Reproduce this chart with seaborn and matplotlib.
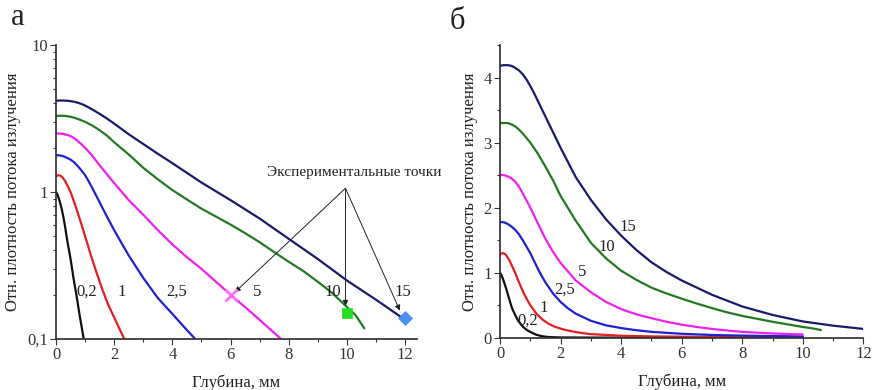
import numpy as np
import pandas as pd
import matplotlib
matplotlib.use("Agg")
import matplotlib.pyplot as plt
import seaborn as sns
from matplotlib.ticker import FixedLocator, NullFormatter, LogLocator

# ---------------- data ----------------
labels = ["0,2", "1", "2,5", "5", "10", "15"]
colors = ["#111111", "#e02020", "#2020d0", "#f020f0", "#217a21", "#1a1a6a"]

x_02 = [0, 0.05, 0.1, 0.15, 0.2, 0.25, 0.3, 0.4, 0.5, 0.6, 0.7, 0.8, 0.9, 1.0, 1.2, 1.4, 1.6, 2.0, 3.0, 5.0, 10.0]
y_02 = [1.0, 0.96, 0.90, 0.83, 0.76, 0.68, 0.60, 0.45, 0.35, 0.26, 0.20, 0.15, 0.115, 0.088, 0.045, 0.022, 0.010, 0.004, 0.002, 0.001, 0.001]

x_1 = [0, 0.05, 0.1, 0.15, 0.2, 0.3, 0.4, 0.5, 0.6, 0.7, 0.8, 0.9, 1.0, 1.2, 1.4, 1.6, 1.8, 2.0, 2.2, 2.4, 2.7, 3.0, 4.0, 5.0, 7.0, 10.0]
y_1 = [1.28, 1.295, 1.30, 1.29, 1.27, 1.20, 1.10, 1.00, 0.88, 0.77, 0.67, 0.58, 0.50, 0.37, 0.28, 0.215, 0.17, 0.14, 0.115, 0.095, 0.072, 0.055, 0.030, 0.020, 0.012, 0.008]

x_25 = [0, 0.125, 0.25, 0.375, 0.5, 0.625, 0.75, 0.875, 1.0, 1.125, 1.25, 1.375, 1.5, 1.75, 2.0, 2.25, 2.5, 3.0, 3.5, 4.0, 4.5, 5.0, 6.0, 7.0, 8.0, 9.0, 10.0]
y_25 = [1.78, 1.775, 1.75, 1.71, 1.66, 1.59, 1.50, 1.40, 1.30, 1.18, 1.06, 0.95, 0.85, 0.68, 0.55, 0.45, 0.37, 0.26, 0.19, 0.148, 0.115, 0.090, 0.060, 0.042, 0.032, 0.025, 0.020]

x_5 = [0, 0.125, 0.25, 0.375, 0.5, 0.625, 0.75, 0.875, 1.0, 1.125, 1.25, 1.5, 1.75, 2.0, 2.5, 3.0, 3.5, 4.0, 4.5, 5.0, 5.5, 6.0, 6.5, 7.0, 7.5, 8.0, 9.0, 10.0]
y_5 = [2.50, 2.50, 2.48, 2.45, 2.40, 2.32, 2.22, 2.11, 2.00, 1.88, 1.76, 1.52, 1.32, 1.15, 0.88, 0.70, 0.55, 0.44, 0.36, 0.30, 0.245, 0.20, 0.165, 0.135, 0.11, 0.09, 0.065, 0.05]

x_10 = [0, 0.125, 0.25, 0.375, 0.5, 0.625, 0.75, 0.875, 1.0, 1.25, 1.5, 1.75, 2.0, 2.5, 3.0, 3.5, 4.0, 4.5, 5.0, 5.5, 6.0, 6.5, 7.0, 7.5, 8.0, 8.5, 9.0, 9.5, 10.0, 10.3, 10.6]
y_10 = [3.30, 3.30, 3.30, 3.28, 3.25, 3.20, 3.14, 3.07, 3.00, 2.83, 2.63, 2.42, 2.18, 1.80, 1.46, 1.22, 1.03, 0.89, 0.77, 0.68, 0.60, 0.525, 0.455, 0.39, 0.335, 0.29, 0.245, 0.205, 0.165, 0.145, 0.118]

x_15 = [0, 0.125, 0.25, 0.375, 0.5, 0.625, 0.75, 0.875, 1.0, 1.125, 1.25, 1.375, 1.5, 1.75, 2.0, 2.5, 3.0, 3.5, 4.0, 4.5, 5.0, 5.5, 6.0, 7.0, 8.0, 9.0, 10.0, 11.0, 12.0]
y_15 = [4.18, 4.19, 4.19, 4.18, 4.15, 4.11, 4.05, 3.97, 3.87, 3.76, 3.64, 3.52, 3.40, 3.16, 2.92, 2.47, 2.12, 1.82, 1.57, 1.35, 1.16, 1.01, 0.88, 0.66, 0.48, 0.35, 0.25, 0.185, 0.135]

curves_x = [x_02, x_1, x_25, x_5, x_10, x_15]
curves_y = [y_02, y_1, y_25, y_5, y_10, y_15]

# experimental points
exp_x = [6, 10, 12]
exp_y = [0.20, 0.15, 0.14]
exp_colors = ["#ff70ff", "#22dd22", "#4a90f0"]
exp_markers = ["x", "s", "D"]

# label positions
lab_a_x = [1.07, 2.26, 4.15, 6.9, 9.53, 11.93]
lab_a_y = [0.21, 0.21, 0.21, 0.21, 0.21, 0.21]
lab_b_x = [0.93, 1.43, 2.15, 2.70, 3.52, 4.21]
lab_b_y = [0.26, 0.45, 0.74, 1.01, 1.40, 1.70]

x_ticks = [0, 2, 4, 6, 8, 10, 12]
ylab = "Отн. плотность потока излучения"
xlab = "Глубина, мм"

frames = []
for lab, xs, ys in zip(labels, curves_x, curves_y):
    frames.append(pd.DataFrame({"x": xs, "y": ys, "curve": lab}))
df = pd.concat(frames, ignore_index=True)

# ---------------- style ----------------
sns.set_theme(style="ticks")
plt.rcParams["font.family"] = ["Liberation Serif", "DejaVu Serif"]
plt.rcParams["axes.edgecolor"] = "#333333"
plt.rcParams["xtick.color"] = "#333333"
plt.rcParams["ytick.color"] = "#333333"
plt.rcParams["text.color"] = "#222222"
plt.rcParams["axes.labelcolor"] = "#222222"
plt.rcParams["lines.solid_joinstyle"] = "round"

fig = plt.figure(figsize=(8.74, 3.90), dpi=100)
axA = fig.add_axes([0.0641, 0.1308, 0.4127, 0.7538])
axB = fig.add_axes([0.5721, 0.1341, 0.4157, 0.7505])

pal = dict(zip(labels, colors))
for ax in (axA, axB):
    sns.lineplot(data=df, x="x", y="y", hue="curve", palette=pal, ax=ax,
                 legend=False, sort=False, estimator=None, linewidth=1.6)
    sns.despine(ax=ax)
    ax.tick_params(labelsize=12, length=4, width=0.8, direction="out", pad=2)
    ax.tick_params(which="minor", length=2.5, width=0.8)
    ax.set_xlabel(xlab, fontsize=12, labelpad=8)
    ax.set_ylabel(ylab, fontsize=12, labelpad=4)
    ax.set_xticks(x_ticks)
    ax.set_xticklabels([str(t) for t in x_ticks])
    ax.xaxis.set_minor_locator(FixedLocator(np.arange(1, 13, 2)))

# panel a (log)
axA.set_yscale("log")
axA.set_ylim(0.1, 10)
axA.set_xlim(0, 12.4)
axA.set_yticks([0.1, 1, 10])
axA.set_yticklabels(["0,1", "1", "10"])
axA.yaxis.set_minor_locator(LogLocator(base=10, subs=np.arange(2, 10)))
axA.yaxis.set_minor_formatter(NullFormatter())
for xv, yv, c, m in zip(exp_x, exp_y, exp_colors, exp_markers):
    axA.plot(xv, yv, marker=m, color=c, markersize=7 if m != "x" else 8,
             mew=2 if m == "x" else 0.5, linestyle="none", zorder=5, clip_on=False)
for t, xv, yv in zip(labels, lab_a_x, lab_a_y):
    axA.text(xv, yv, t, fontsize=12, ha="center", va="center")
axA.text(7.24, 1.36, "Экспериментальные точки", fontsize=11, ha="left", va="center")
for tx, ty in [(6.15, 0.208), (9.95, 0.168), (11.82, 0.156)]:
    axA.annotate("", xy=(tx, ty), xytext=(9.95, 1.06),
                 arrowprops=dict(arrowstyle="-|>", color="#222222", lw=0.7,
                                 mutation_scale=8, shrinkA=0, shrinkB=0))

# panel b (linear)
axB.set_xlim(0, 12)
axB.set_ylim(0, 4.5)
axB.set_yticks([0, 1, 2, 3, 4])
axB.set_yticklabels(["0", "1", "2", "3", "4"])
axB.yaxis.set_minor_locator(FixedLocator([0.5, 1.5, 2.5, 3.5, 4.5]))
axB.xaxis.set_minor_locator(FixedLocator(np.arange(1, 13, 1)))
for t, xv, yv in zip(labels, lab_b_x, lab_b_y):
    axB.text(xv, yv, t, fontsize=12, ha="center", va="center")

fig.text(0.020, 0.955, "а", fontsize=22, ha="center", va="center")
fig.text(0.523, 0.945, "б", fontsize=22, ha="center", va="center")

fig.savefig("out.png", dpi=100)
